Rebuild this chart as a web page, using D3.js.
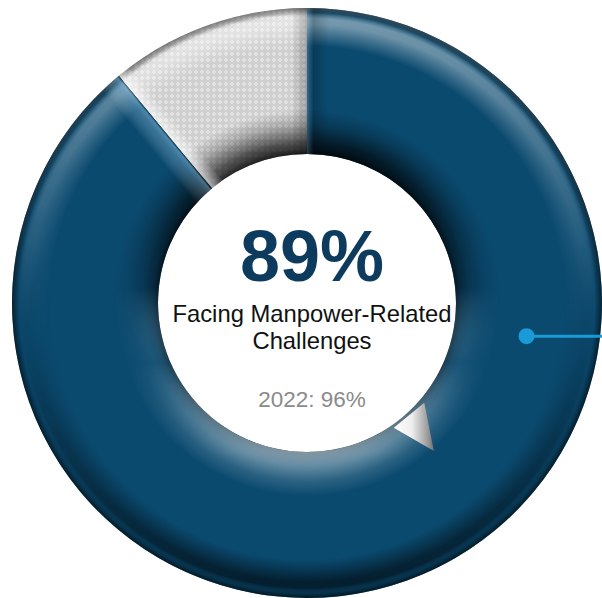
<!DOCTYPE html>
<html>
<head>
<meta charset="utf-8">
<script src="https://cdn.jsdelivr.net/npm/d3@7"></script>
<style>
  html, body { margin: 0; padding: 0; background: #ffffff; }
  svg { display: block; }
  text { font-family: Arial, "Liberation Sans", sans-serif; }
</style>
</head>
<body>
<div id="chart"></div>
<script>
// ------------------------------ DATA ------------------------------
var categories = ["Facing Manpower-Related Challenges", "Not facing challenges"];
var values = [89, 11];
var headline = "89%";
var captionLines = ["Facing Manpower-Related", "Challenges"];
var priorLabel = "2022: 96%";

// ----------------------------- CONFIG -----------------------------
var width = 602,
    height = 598,
    cx = 307,
    cy = 303,
    outerR = 295,
    innerR = 149,
    textX = 312;

var colorMain = "#0b4a6f",
    colorCallout = "#1a9bd7",
    colorHeadline = "#0d3b5e",
    colorPrior = "#8a8a8a";

// ------------------------------ MAIN ------------------------------
var svg = d3.select("#chart")
    .append("svg")
    .attr("width", width)
    .attr("height", height);

var defs = svg.append("defs");

// everything of the ring is drawn relative to its centre
function polar(a, r) {
    return [r * Math.sin(a), -r * Math.cos(a)];
}
function addStops(grad, stops) {
    stops.forEach(function (s) {
        grad.append("stop").attr("offset", s[0]).attr("stop-color", s[1])
            .attr("stop-opacity", s.length > 2 ? s[2] : 1);
    });
}

// textured grey fill
var pat = defs.append("pattern")
    .attr("id", "greyTex")
    .attr("patternUnits", "userSpaceOnUse")
    .attr("width", 6)
    .attr("height", 6);
pat.append("rect").attr("width", 6).attr("height", 6).attr("fill", "#cfcfcf");
pat.append("path").attr("d", "M3,0.8 L5.2,3 L3,5.2 L0.8,3Z").attr("fill", "#ececec");
pat.append("rect").attr("x", 2.5).attr("y", 2.5).attr("width", 1).attr("height", 1).attr("fill", "#bdbdbd");

var pie = d3.pie().sort(null).value(function (d) { return d; });
var arcs = pie(values);
var arc = d3.arc().innerRadius(innerR).outerRadius(outerR);
var ring = d3.arc().innerRadius(innerR).outerRadius(outerR).startAngle(0).endAngle(2 * Math.PI);

var g = svg.append("g").attr("transform", "translate(" + cx + "," + cy + ")");

// clip paths, one per segment
arcs.forEach(function (d, i) {
    defs.append("clipPath").attr("id", "seg" + i)
        .append("path")
        .attr("d", arc(d));
});

g.selectAll("path.slice")
    .data(arcs)
    .enter()
    .append("path")
    .attr("class", "slice")
    .attr("d", arc)
    .attr("fill", function (d, i) { return i === 0 ? colorMain : "url(#greyTex)"; });

// ---------------------------- BEVEL -------------------------------
var k = innerR / outerR;

// symmetric rims (dark edges)
var rim = defs.append("radialGradient").attr("id", "rim")
    .attr("gradientUnits", "userSpaceOnUse")
    .attr("cx", 0).attr("cy", 0).attr("r", outerR);
addStops(rim, [[k, "#000", 0.45], [k + 0.02, "#000", 0.15], [k + 0.05, "#000", 0],
    [0.975, "#000", 0], [0.99, "#000", 0.35], [1, "#000", 0.55]]);
g.append("path").attr("d", ring()).attr("fill", "url(#rim)");

// vertical light, lit from the top
var lightOuter = defs.append("linearGradient").attr("id", "lightOuter")
    .attr("gradientUnits", "userSpaceOnUse")
    .attr("x1", 0).attr("y1", -outerR).attr("x2", 0).attr("y2", outerR);
addStops(lightOuter, [[0, "#fff", 0.45], [0.4, "#fff", 0.1], [0.55, "#000", 0.05], [1, "#000", 0.6]]);
var lightInner = defs.append("linearGradient").attr("id", "lightInner")
    .attr("gradientUnits", "userSpaceOnUse")
    .attr("x1", 0).attr("y1", -innerR).attr("x2", 0).attr("y2", innerR);
addStops(lightInner, [[0, "#000", 0.75], [0.45, "#000", 0.35], [0.7, "#fff", 0.08], [1, "#fff", 0.5]]);

function radialMask(id, stops) {
    var grad = defs.append("radialGradient").attr("id", id + "Grad")
        .attr("gradientUnits", "userSpaceOnUse")
        .attr("cx", 0).attr("cy", 0).attr("r", outerR);
    addStops(grad, stops);
    defs.append("mask").attr("id", id)
        .attr("maskUnits", "userSpaceOnUse")
        .attr("x", -cx).attr("y", -cy).attr("width", width).attr("height", height)
        .append("rect")
        .attr("x", -cx).attr("y", -cy).attr("width", width).attr("height", height)
        .attr("fill", "url(#" + id + "Grad)");
}
radialMask("maskOuter", [[0.87, "#000"], [0.945, "#fff"], [0.965, "#fff"], [0.985, "#333"], [1, "#666"]]);
radialMask("maskInner", [[k, "#fff"], [k + 0.04, "#ccc"], [k + 0.1, "#444"], [k + 0.15, "#000"]]);

g.append("path").attr("d", ring()).attr("fill", "url(#lightOuter)").attr("mask", "url(#maskOuter)");
g.append("path").attr("d", ring()).attr("fill", "url(#lightInner)").attr("mask", "url(#maskInner)");

// bevels along the segment boundaries
function boundaryBand(id, a, side, seg, w, stops) {
    var t = [Math.cos(a), Math.sin(a)];
    var p1 = polar(a, innerR - 4), p2 = polar(a, outerR + 4);
    var off = function (p) { return [p[0] + side * w * t[0], p[1] + side * w * t[1]]; };
    var m = polar(a, (innerR + outerR) / 2), m2 = off(m);
    var lg = defs.append("linearGradient").attr("id", id)
        .attr("gradientUnits", "userSpaceOnUse")
        .attr("x1", m[0]).attr("y1", m[1]).attr("x2", m2[0]).attr("y2", m2[1]);
    addStops(lg, stops);
    g.append("path")
        .attr("d", d3.line()([p1, p2, off(p2), off(p1)]) + "Z")
        .attr("fill", "url(#" + id + ")")
        .attr("clip-path", "url(#seg" + seg + ")");
}
var aSplit = arcs[1].startAngle,
    aTop = arcs[1].endAngle;
boundaryBand("bvA", aSplit, -1, 0, 22, [[0, "#000", 0.35], [0.1, "#9fd0f0", 0.45], [0.35, "#9fd0f0", 0.3], [1, "#fff", 0]]);
boundaryBand("bvB", aSplit, 1, 1, 14, [[0, "#fff", 0.6], [1, "#fff", 0]]);
boundaryBand("bvC", aTop, -1, 1, 16, [[0, "#000", 0.25], [1, "#000", 0]]);
boundaryBand("bvD", 0, 1, 0, 22, [[0, "#9fd0f0", 0.25], [0.3, "#000", 0.2], [1, "#000", 0]]);

// small folded corner at the inner edge, opposite the split
var aOpp = aSplit - Math.PI,
    deg = Math.PI / 180;
var fold = defs.append("linearGradient").attr("id", "fold")
    .attr("x1", 0).attr("y1", 0).attr("x2", 1).attr("y2", 0);
addStops(fold, [[0, "#ffffff"], [0.45, "#eeeeee"], [0.85, "#9a9a9a"], [1, "#6e6e6e"]]);
g.append("path")
    .attr("d", d3.line()([polar(aOpp - 10 * deg, innerR + 5), polar(aOpp + 4.8 * deg, innerR + 3), polar(aOpp - 1 * deg, innerR + 46)]) + "Z")
    .attr("fill", "url(#fold)");

// --------------------------- CALLOUT ------------------------------
var calloutAngle = 98.6 * deg,
    dot = polar(calloutAngle, (innerR + outerR) / 2);
g.append("line")
    .attr("x1", dot[0]).attr("y1", dot[1])
    .attr("x2", width - cx).attr("y2", dot[1])
    .attr("stroke", colorCallout)
    .attr("stroke-width", 3);
g.append("circle")
    .attr("cx", dot[0]).attr("cy", dot[1])
    .attr("r", 8)
    .attr("fill", colorCallout);

// ---------------------------- LABELS ------------------------------
svg.append("text")
    .attr("x", textX).attr("y", 281)
    .attr("text-anchor", "middle")
    .attr("font-size", 72)
    .attr("font-weight", "bold")
    .attr("fill", colorHeadline)
    .text(headline);

svg.selectAll("text.caption")
    .data(captionLines)
    .enter()
    .append("text")
    .attr("class", "caption")
    .attr("x", textX)
    .attr("y", function (d, i) { return 322 + i * 27; })
    .attr("text-anchor", "middle")
    .attr("font-size", 23.8)
    .attr("fill", "#111111")
    .text(function (d) { return d; });

svg.append("text")
    .attr("x", textX).attr("y", 407)
    .attr("text-anchor", "middle")
    .attr("font-size", 22.5)
    .attr("fill", colorPrior)
    .text(priorLabel);
</script>
</body>
</html>
